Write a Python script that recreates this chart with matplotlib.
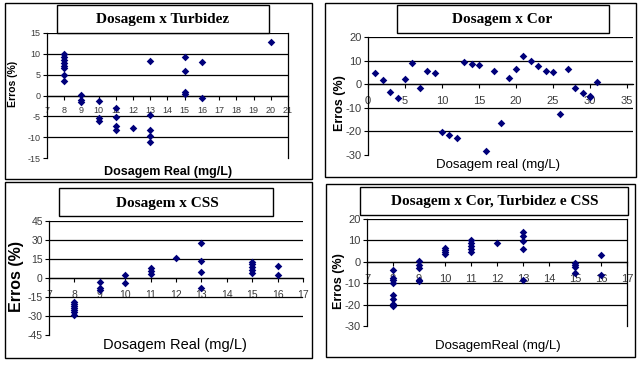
import matplotlib
matplotlib.use('Agg')
import matplotlib.pyplot as plt
from matplotlib.patches import Rectangle

W, H = 640, 365
NAVY = '#00007a'
TICK_GREY = '#3c3c3c'
SANS = 'Liberation Sans'
SERIF = 'Liberation Serif'

plt.rcParams['axes.unicode_minus'] = False

# --- data ---
# Dosagem x Turbidez
turb_x = [8, 8, 8, 8, 8, 8, 8, 8, 9, 9, 9, 10, 10, 10, 11, 11, 11, 11, 12,
          13, 13, 13, 13, 13, 15, 15, 15, 15, 16, 16, 20]
turb_y = [10.0, 9.2, 8.5, 7.8, 7.2, 6.6, 5.0, 3.6, 0.2, -1.0, -1.5, -1.2, -5.3, -6.0,
          -3.1, -5.1, -7.2, -8.2, -7.8, 8.2, -4.7, -8.3, -9.8, -11.2, 9.3, 6.0, 0.8,
          0.3, 8.0, -0.5, 12.9]
turb_xticks = [7, 8, 9, 10, 11, 12, 13, 14, 15, 16, 17, 18, 19, 20, 21]
turb_yticks = [-15, -10, -5, 0, 5, 10, 15]

# Dosagem x Cor
cor_x = [1, 2, 3, 4, 5, 6, 7, 8, 9, 10, 11, 12, 13, 14, 15, 16, 17, 18, 19, 20,
         21, 22, 23, 24, 25, 26, 27, 28, 29, 30, 30, 31]
cor_y = [4.8, 1.7, -3.2, -5.8, 2.0, 9.0, -1.5, 5.6, 4.9, -20.1, -21.5, -22.7, 9.4,
         8.7, 8.0, -28.2, 5.6, -16.3, 2.7, 6.3, 11.8, 9.9, 7.6, 5.6, 5.2, -12.7,
         6.3, -1.8, -3.9, -5.0, -5.4, 0.8]
cor_xticks = [0, 5, 10, 15, 20, 25, 30, 35]
cor_yticks = [-30, -20, -10, 0, 10, 20]

# Dosagem x CSS
css_x = [8, 8, 8, 8, 8, 8, 8, 9, 9, 9, 10, 10, 11, 11, 11, 12, 13, 13, 13, 13,
         15, 15, 15, 15, 15, 16, 16]
css_y = [-19, -20.5, -22, -23.5, -25, -27, -29.5, -3.5, -8, -9.5, 2.5, -4, 8, 5.5,
         3, 16, 27.5, 13.5, 5, -8, 13, 11, 9, 6.5, 4, 9.5, 2]
css_xticks = [7, 8, 9, 10, 11, 12, 13, 14, 15, 16, 17]
css_yticks = [-45, -30, -15, 0, 15, 30, 45]

# Dosagem x Cor, Turbidez e CSS
all_x = [8, 8, 8, 8, 8, 8, 8, 8, 9, 9, 9, 9, 9, 10, 10, 10, 10, 11, 11, 11, 11, 11,
         12, 13, 13, 13, 13, 13, 15, 15, 15, 15, 16, 16]
all_y = [-4, -7.5, -8.5, -10, -15.5, -17.5, -19.5, -20.5, 0.5, -1.5, -3, -8.5, -9,
         6.5, 5.5, 4.5, 3.5, 10, 9, 7.5, 6, 4.5, 9, 14, 12, 9.5, 6, -8.5, -0.5, -1.5,
         -2.5, -5, 3, -6]
all_xticks = [7, 8, 9, 10, 11, 12, 13, 14, 15, 16, 17]
all_yticks = [-30, -20, -10, 0, 10, 20]


def fig_rect(l, t, r, b):
    # pixel box (from top-left) -> figure fraction
    return [l / W, 1 - b / H, (r - l) / W, (b - t) / H]


fig = plt.figure(figsize=(W / 100, H / 100), dpi=100)
fig.patch.set_facecolor('white')


def frame(l, t, r, b, z=1, fill=False):
    x0, y0, w, h = fig_rect(l, t, r, b)
    fig.add_artist(Rectangle((x0, y0), w, h, transform=fig.transFigure,
                             facecolor='white', fill=fill, edgecolor='black',
                             linewidth=1.0, zorder=z))


def panel(box, xs, ys, xticks, yticks, xlim, tick_fs, xpad, right_spine):
    ax = fig.add_axes(fig_rect(*box))
    ax.set_facecolor('none')
    ax.scatter(xs, ys, marker='D', s=15, color=NAVY, zorder=3, linewidths=0)
    ax.set_xlim(*xlim)
    ax.set_ylim(yticks[0], yticks[-1])
    ax.set_xticks(xticks)
    ax.set_yticks(yticks)
    ax.set_axisbelow(True)
    ax.yaxis.grid(True, color='black', linewidth=0.9)
    ax.get_ygridlines()[0].set_visible(False)
    ax.spines['top'].set_visible(False)
    ax.spines['right'].set_visible(right_spine)
    ax.spines['bottom'].set_position(('data', 0))
    for s in ax.spines.values():
        s.set_linewidth(0.9)
    ax.tick_params(axis='x', direction='out', length=3, width=0.8, pad=xpad,
                   labelsize=tick_fs, labelcolor=TICK_GREY)
    ax.tick_params(axis='y', direction='out', length=3, width=0.8, pad=1.5,
                   labelsize=tick_fs, labelcolor=TICK_GREY)
    for lab in ax.get_xticklabels() + ax.get_yticklabels():
        lab.set_family(SANS)
    return ax


def px_text(x, y, s, **kw):
    fig.text(x / W, 1 - y / H, s, ha='center', va='center', zorder=7, **kw)


# panel frames
frame(5, 3, 312, 179)
frame(325, 3, 636, 177)
frame(5, 182, 312, 358)
frame(326, 184, 635, 357)

# --- Dosagem x Turbidez ---
panel((47, 33, 288, 158), turb_x, turb_y, turb_xticks, turb_yticks, (7, 21),
      6.5, 4.6, True)
frame(57, 5, 269, 33, z=5, fill=True)
px_text(163, 20, 'Dosagem x Turbidez', family=SERIF, fontweight='bold', fontsize=11)
px_text(13, 84, 'Erros (%)', family=SANS, fontweight='bold', fontsize=7.5,
        rotation=90)
px_text(168, 172, 'Dosagem Real (mg/L)', family=SANS, fontweight='bold', fontsize=9)

# --- Dosagem x Cor ---
panel((368, 37, 633, 155), cor_x, cor_y, cor_xticks, cor_yticks, (0, 35.8),
      8, 5.6, False)
frame(397, 5, 609, 33, z=5, fill=True)
px_text(502, 20, 'Dosagem x Cor', family=SERIF, fontweight='bold', fontsize=11)
px_text(340, 103, 'Erros (%)', family=SANS, fontweight='bold', fontsize=9,
        rotation=90)
px_text(498, 165, 'Dosagem real (mg/L)', family=SANS, fontsize=9.5)

# --- Dosagem x CSS ---
panel((49, 221, 303, 335), css_x, css_y, css_xticks, css_yticks, (7, 17),
      7.5, 5.6, False)
frame(59, 188, 273, 216, z=5, fill=True)
px_text(167, 203, 'Dosagem x CSS', family=SERIF, fontweight='bold', fontsize=11)
px_text(17, 277, 'Erros (%)', family=SANS, fontweight='bold', fontsize=11.5,
        rotation=90)
px_text(175, 345, 'Dosagem Real (mg/L)', family=SANS, fontsize=10.5)

# --- Dosagem x Cor, Turbidez e CSS ---
panel((367, 219, 627, 326), all_x, all_y, all_xticks, all_yticks, (7, 17),
      8, 5.6, True)
frame(360, 187, 628, 215, z=5, fill=True)
px_text(495, 202, 'Dosagem x Cor, Turbidez e CSS', family=SERIF,
        fontweight='bold', fontsize=11)
px_text(339, 281, 'Erros (%)', family=SANS, fontweight='bold', fontsize=9,
        rotation=90)
px_text(498, 346, 'DosagemReal (mg/L)', family=SANS, fontsize=9.5)

fig.savefig('out.png', dpi=100, facecolor='white')
